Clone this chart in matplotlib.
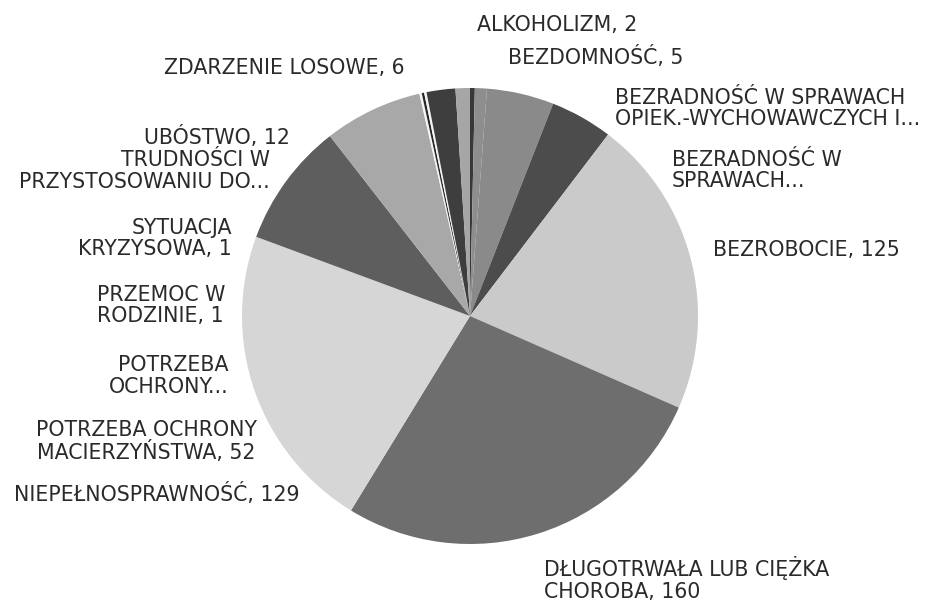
import matplotlib.pyplot as plt

# slices in clockwise order from 12 o'clock
categories = [
    "ALKOHOLIZM",
    "BEZDOMNOŚĆ",
    "BEZRADNOŚĆ W SPRAWACH\nOPIEK.-WYCHOWAWCZYCH I...",
    "BEZRADNOŚĆ W\nSPRAWACH...",
    "BEZROBOCIE",
    "DŁUGOTRWAŁA LUB CIĘŻKA\nCHOROBA",
    "NIEPEŁNOSPRAWNOŚĆ",
    "POTRZEBA OCHRONY\nMACIERZYŃSTWA",
    "POTRZEBA\nOCHRONY...",
    "PRZEMOC W\nRODZINIE",
    "SYTUACJA\nKRYZYSOWA",
    "TRUDNOŚCI W\nPRZYSTOSOWANIU DO...",
    "UBÓSTWO",
    "ZDARZENIE LOSOWE",
]
values = [2, 5, 28, 26, 125, 160, 129, 52, 41, 1, 1, 1, 12, 6]
# truncated labels ("...") don't show their value
show_value = [True, True, False, False, True, True, True, True, False,
              True, True, False, True, True]

colors = ["#383838", "#8e8e8e", "#8a8a8a", "#4c4c4c", "#cacaca", "#6e6e6e",
          "#d6d6d6", "#5e5e5e", "#a8a8a8", "#f4f4f4", "#262626", "#f4f4f4",
          "#3e3e3e", "#a6a6a6"]

# label anchors in pixels from the top-left: x, y, ha, multialignment
label_layout = [
    (477, 25, "left", "left"),
    (508, 57, "left", "left"),
    (615, 108.5, "left", "left"),
    (672, 170.5, "left", "left"),
    (713, 249.5, "left", "left"),
    (544, 579, "left", "left"),
    (300, 494, "right", "right"),
    (257, 441.5, "right", "center"),
    (229, 376, "right", "right"),
    (225, 305.5, "right", "left"),
    (232, 238.5, "right", "right"),
    (270, 171, "right", "right"),
    (290, 137.5, "right", "right"),
    (405, 68, "right", "right"),
]

W, H = 933, 600
cx, cy, r = 470, 316, 228

fig = plt.figure(figsize=(W / 100, H / 100), dpi=100)
ax = fig.add_axes([0, 0, 1, 1])

ax.pie(values, colors=colors, startangle=90, counterclock=False,
       center=(cx, H - cy), radius=r, wedgeprops=dict(linewidth=0))
ax.set_xlim(0, W)
ax.set_ylim(0, H)
ax.set_aspect("equal")
ax.axis("off")

for name, val, show, (x, y, ha, ma) in zip(categories, values, show_value, label_layout):
    text = f"{name}, {val}" if show else name
    ax.text(x, H - y, text, ha=ha, va="center", multialignment=ma,
            fontsize=14.8, color="#2a2a2a", family="DejaVu Sans",
            linespacing=1.08)

fig.savefig("out.png", dpi=100, facecolor="white")
